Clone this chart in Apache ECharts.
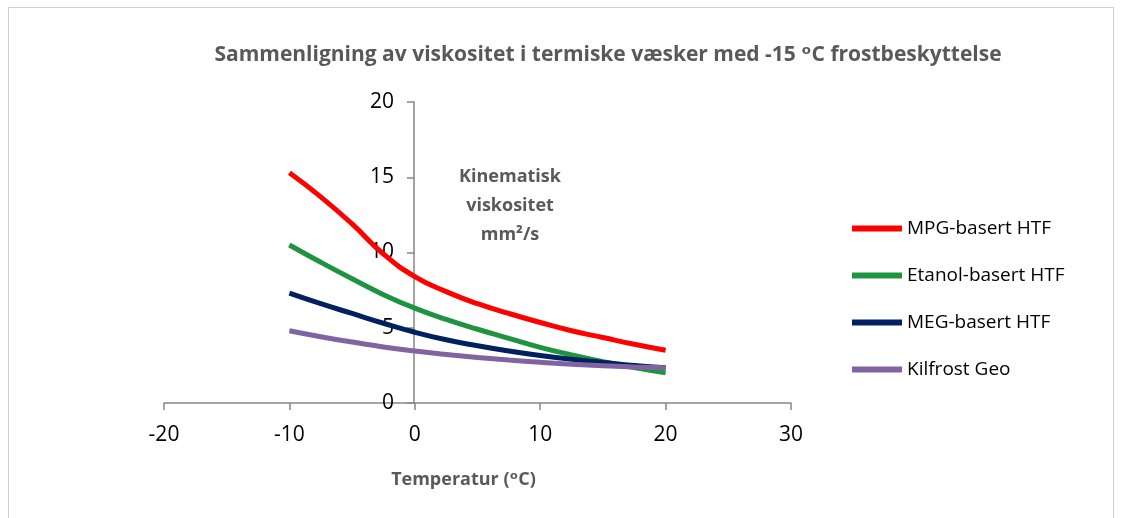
<!DOCTYPE html>
<html>
<head>
<meta charset="utf-8">
<script src="https://cdn.jsdelivr.net/npm/echarts@6/dist/echarts.min.js"></script>
<style>
html, body { margin: 0; padding: 0; background: #fff; }
#box { position: absolute; left: 8px; top: 7px; width: 1106px; height: 520px; border: 1px solid #d0d0d0; box-sizing: border-box; }
#main { position: absolute; left: 0; top: 0; width: 1125px; height: 518px; }
</style>
</head>
<body>
<div id="box"></div>
<div id="main"></div>
<script>
// temperatur (°C)
var temps = [-10, -7.5, -5, -2.5, 0, 2.5, 5, 7.5, 10, 12.5, 15, 17.5, 20];
// kinematisk viskositet mm2/s
var mpg = [15.3, 13.7, 11.9, 9.9, 8.4, 7.4, 6.6, 5.95, 5.35, 4.8, 4.35, 3.9, 3.5];
var etanol = [10.5, 9.35, 8.25, 7.2, 6.3, 5.55, 4.9, 4.3, 3.7, 3.2, 2.75, 2.35, 2.0];
var meg = [7.3, 6.6, 5.95, 5.3, 4.7, 4.2, 3.8, 3.45, 3.15, 2.9, 2.7, 2.5, 2.35];
var kilfrost = [4.8, 4.4, 4.05, 3.72, 3.45, 3.22, 3.02, 2.85, 2.7, 2.57, 2.47, 2.4, 2.35];

var names = ['MPG-basert HTF', 'Etanol-basert HTF', 'MEG-basert HTF', 'Kilfrost Geo'];
var colors = ['#ff0000', '#1f9440', '#002060', '#8064a2'];
var values = [mpg, etanol, meg, kilfrost];

function pairs(arr) {
    return temps.map(function (t, i) { return [t, arr[i]]; });
}

var font = '"Open Sans", "DejaVu Sans", sans-serif';
var myChart = echarts.init(document.getElementById('main'));
var option = {
    animation: false,
    title: {
        text: 'Sammenligning av viskositet i termiske væsker med -15 ᵒC frostbeskyttelse',
        left: 603, top: 40, textAlign: 'center',
        textStyle: { fontFamily: font, fontSize: 21, fontWeight: 'bold', color: '#595959' }
    },
    legend: {
        orient: 'vertical',
        left: 847, top: 214,
        itemWidth: 50, itemHeight: 6, itemGap: 28,
        icon: 'rect',
        data: names,
        textStyle: { fontFamily: font, fontSize: 19, color: '#000' }
    },
    grid: { left: 164, right: 334, top: 102, bottom: 115 },
    xAxis: {
        type: 'value', min: -20, max: 30, interval: 10,
        name: 'Temperatur (ᵒC)', nameLocation: 'middle', nameGap: 68,
        nameTextStyle: { fontFamily: font, fontSize: 18, fontWeight: 'bold', color: '#595959', padding: [0, 28, 0, 0] },
        axisLine: { lineStyle: { color: '#868686', width: 1.5 } },
        axisTick: { show: true, length: 7, lineStyle: { color: '#868686', width: 1.5 } },
        axisLabel: { margin: 22, fontFamily: font, fontSize: 21, color: '#000' },
        splitLine: { show: false }
    },
    yAxis: {
        type: 'value', min: 0, max: 20, interval: 5,
        offset: -250,
        axisLine: { show: true, onZero: false, lineStyle: { color: '#868686', width: 1.5 } },
        axisTick: { show: true, length: 7, lineStyle: { color: '#868686', width: 1.5 } },
        axisLabel: { margin: 20, fontFamily: font, fontSize: 21, color: '#000' },
        splitLine: { show: false }
    },
    graphic: [{
        type: 'text', x: 510, y: 162,
        style: {
            text: 'Kinematisk\nviskositet\nmm²/s',
            align: 'center', lineHeight: 29,
            font: 'bold 18px "Open Sans", sans-serif', fill: '#595959'
        }
    }],
    series: names.map(function (n, i) {
        return {
            name: n, type: 'line', smooth: 0.5, symbol: 'none',
            color: colors[i],
            lineStyle: { width: 5, color: colors[i] },
            data: pairs(values[i])
        };
    })
};
myChart.setOption(option);
</script>
</body>
</html>
